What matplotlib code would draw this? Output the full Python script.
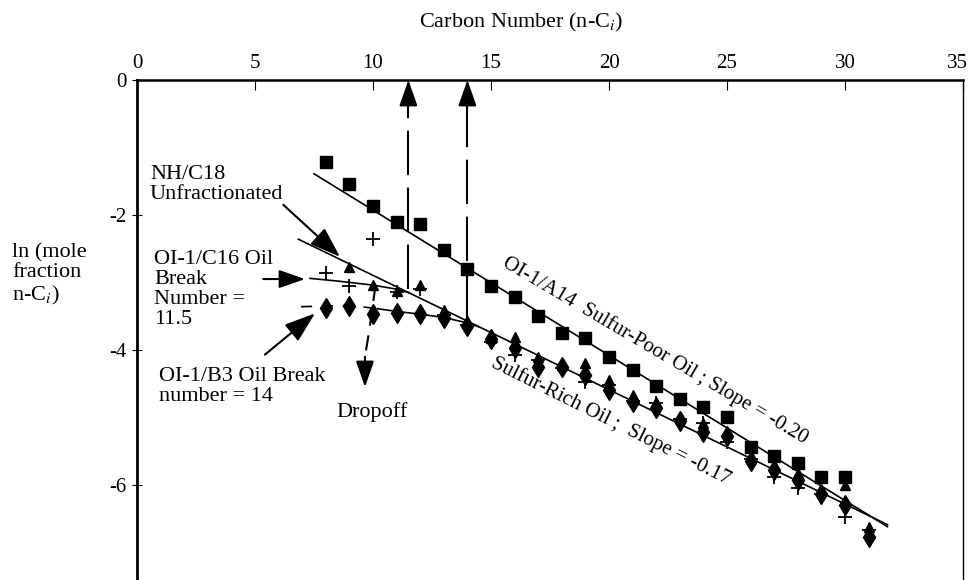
import matplotlib
matplotlib.use('Agg')
import matplotlib.pyplot as plt
import matplotlib.transforms as mtransforms

plt.rcParams['font.family'] = ['Liberation Serif', 'DejaVu Serif']
plt.rcParams['mathtext.fontset'] = 'stix'
plt.rcParams['axes.unicode_minus'] = False
plt.rcParams['lines.scale_dashes'] = False

# n-alkane carbon numbers and ln(mole fraction) for each oil
carbon_a14 = list(range(8, 31))
ln_a14 = [-1.22, -1.54, -1.87, -2.10, -2.13, -2.52, -2.80, -3.06, -3.21, -3.50, -3.75, -3.82,
          -4.11, -4.30, -4.53, -4.73, -4.84, -4.99, -5.44, -5.57, -5.67, -5.89, -5.89]

carbon_b3 = list(range(8, 32))
ln_b3 = [-3.38, -3.35, -3.47, -3.46, -3.47, -3.53, -3.65, -3.84, -3.97, -4.26, -4.25, -4.37,
         -4.59, -4.77, -4.86, -5.06, -5.21, -5.28, -5.65, -5.78, -5.93, -6.13, -6.30, -6.77]

carbon_c16 = list(range(8, 32))
ln_c16 = [-2.86, -3.05, -2.36, -3.14, -3.10, -3.48, -3.63, -3.88, -4.07, -4.15, -4.27, -4.47,
          -4.52, -4.75, -4.79, -5.02, -5.09, -5.36, -5.62, -5.88, -6.05, -6.13, -6.47, -6.67]

carbon_c18 = [9, 10, 11, 12, 13, 15, 16, 17, 18, 19, 20, 21, 22, 23, 24, 25, 26, 27, 28, 29, 30, 31]
ln_c18 = [-2.77, -3.04, -3.12, -3.04, -3.41, -3.82, -3.81, -4.11, -4.22, -4.20, -4.44, -4.67,
          -4.77, -4.99, -5.09, -5.21, -5.59, -5.72, -5.82, -6.08, -6.00, -6.62]

# straight fits
poor_fit_x = [7.5, 31.8]
poor_fit_y = [-1.39, -6.62]
rich_fit_x = [6.84, 31.8]
rich_fit_y = [-2.36, -6.59]

# curved light ends
c16_curve_x = [7.33, 8.5, 10.0, 11.0, 11.5]
c16_curve_y = [-2.94, -2.98, -3.04, -3.10, -3.15]
b3_dash_x = [6.95, 8.0, 9.0, 10.2]
b3_dash_y = [-3.36, -3.35, -3.34, -3.39]
b3_curve_x = [10.2, 11.0, 12.0, 13.0, 14.0, 14.5]
b3_curve_y = [-3.39, -3.43, -3.47, -3.52, -3.60, -3.66]

break_numbers = [11.5, 14]
break_bottoms = [-3.10, -3.53]

dropoff_x = [10.1, 9.95, 9.8, 9.66]
dropoff_y = [-3.05, -3.45, -3.8, -4.1]

fig = plt.figure(figsize=(9.69, 5.8), dpi=100)
ax = fig.add_axes([0.1414, 0.0, 0.8524, 0.8621])
ax.set_xlim(0, 35)
ax.set_ylim(-7.41, 0)

ax.xaxis.tick_top()
ax.set_xticks(range(0, 36, 5))
ax.set_yticks([0, -2, -4, -6])
ax.tick_params(axis='x', direction='in', length=7, width=0.8, labelsize=15, pad=5)
ax.tick_params(axis='y', direction='inout', length=7, width=0.8, labelsize=15, pad=4)
ax.spines['bottom'].set_visible(False)
ax.spines['top'].set_linewidth(1.8)
ax.spines['left'].set_linewidth(2.0)
ax.spines['right'].set_linewidth(1.0)

# keep the last top label inside the canvas
fig.canvas.draw()
last = ax.get_xticklabels()[-1]
last.set_transform(last.get_transform() + mtransforms.ScaledTranslation(-6 / 100, 0, fig.dpi_scale_trans))

lw = 1.2
ax.plot(poor_fit_x, poor_fit_y, color='k', lw=lw, zorder=2)
ax.plot(rich_fit_x, rich_fit_y, color='k', lw=lw, zorder=2)
ax.plot(c16_curve_x, c16_curve_y, color='k', lw=lw, zorder=2)
ax.plot(b3_dash_x, b3_dash_y, color='k', lw=lw, linestyle=(0, (8, 7)), zorder=2)
ax.plot(b3_curve_x, b3_curve_y, color='k', lw=lw, zorder=2)

ax.plot(carbon_a14, ln_a14, 's', color='k', ms=8, zorder=3)
ax.plot(carbon_c18, ln_c18, '^', color='k', ms=7, zorder=3)
ax.plot(carbon_b3, ln_b3, 'd', color='k', ms=10, zorder=4)
ax.plot(carbon_c16, ln_c16, '+', color='k', ms=10, mew=1.3, zorder=4)

# break-number arrows up to the axis
head = dict(arrowstyle='-|>,head_length=0.8,head_width=0.28', color='k', lw=1.5,
            shrinkA=0, shrinkB=0, mutation_scale=20)
for bx, by in zip(break_numbers, break_bottoms):
    ax.plot([bx, bx], [by, -0.3], color='k', lw=1.5, linestyle=(0, (32, 9)), zorder=2)
    ax.annotate('', xy=(bx, 0), xytext=(bx, -0.32), arrowprops=head, zorder=5)

# dropoff arrow
ax.plot(dropoff_x, dropoff_y, color='k', lw=1.5, linestyle=(0, (11, 7)), zorder=2)
ax.annotate('', xy=(9.66, -4.55), xytext=(9.66, -4.1), arrowprops=head)

# label arrows
big = dict(head, arrowstyle='-|>,head_length=0.95,head_width=0.33')
ax.annotate('', xy=(8.6, -2.62), xytext=(6.2, -1.85), arrowprops=big)
ax.annotate('', xy=(7.12, -2.95), xytext=(5.35, -2.95), arrowprops=head)
ax.annotate('', xy=(7.54, -3.46), xytext=(5.42, -4.07), arrowprops=big)

fs = 16
ax.text(0.55, -1.26, 'NH/C18\nUnfractionated', fontsize=fs, va='top', ha='left', linespacing=1.08)
ax.text(0.72, -2.52, 'OI-1/C16 Oil\nBreak\nNumber =\n11.5', fontsize=fs, va='top', ha='left',
        linespacing=1.08)
ax.text(0.93, -4.25, 'OI-1/B3 Oil Break\nnumber = 14', fontsize=fs, va='top', ha='left',
        linespacing=1.08)
ax.text(9.94, -4.77, 'Dropoff', fontsize=fs, va='top', ha='center')

ax.text(21.95, -4.01, 'OI-1/A14  Sulfur-Poor Oil ; Slope = -0.20', fontsize=15,
        rotation=-30.5, rotation_mode='anchor', ha='center', va='center')
ax.text(20.08, -5.06, 'Sulfur-Rich Oil ;  Slope = -0.17', fontsize=15,
        rotation=-26.5, rotation_mode='anchor', ha='center', va='center')

fig.text(521 / 969, 0.962, 'Carbon Number (n-C$_i$)', fontsize=fs, ha='center', va='center')
fig.text(12 / 969, 1 - 243 / 580, 'ln (mole\nfraction\nn-C$_i$)', fontsize=fs, ha='left',
         va='top', linespacing=1.08)

fig.savefig('out.png', dpi=100)
